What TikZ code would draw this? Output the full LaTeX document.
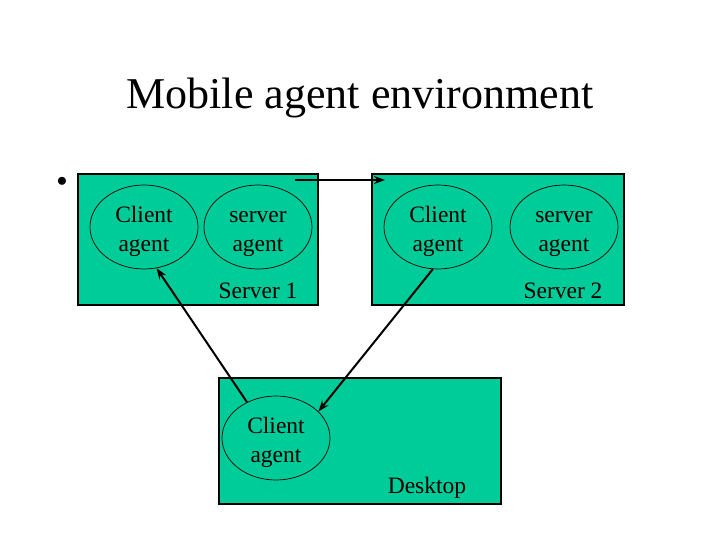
\documentclass[tikz,border=0pt]{standalone}
\usepackage{fontspec}
\setmainfont{Liberation Serif}
\usetikzlibrary{shapes.geometric}
\usetikzlibrary{arrows.meta}
\usetikzlibrary{positioning}
\definecolor{hostgreen}{RGB}{0,204,153}
\newcommand{\toprow}{\rule{0pt}{28pt}}

\begin{document}
\begin{tikzpicture}[
  x=1pt,y=-1pt,
  host/.style={draw,fill=hostgreen,line width=1.2pt,inner sep=0pt},
  agent/.style={ellipse,draw,line width=0.7pt,minimum width=108pt,minimum height=84pt,
    inner xsep=0pt,inner ysep=-4pt,align=center,font=\fontsize{23.5}{29}\selectfont},
  hostlabel/.style={font=\fontsize{23.5}{28}\selectfont},
  move/.style={line width=2pt,-{Stealth[length=11pt,width=8pt]}}]
\useasboundingbox (0,0) rectangle (720,540);
% title
\node (title) at (360,98) {\fontsize{44}{52}\selectfont Mobile agent environment};
\node (dot) at (62,182) {\fontsize{22}{26}\selectfont $\bullet$};
% hosts
\node[host,minimum width=240pt,minimum height=131pt] (server1) at (198,239.5) {};
\node[host,minimum width=252pt,minimum height=131pt] (server2) at (498,239.5) {};
\node[host,minimum width=282pt,minimum height=126pt] (desktop) at (360,441) {};
\node[hostlabel] (s1label) at (258,291) {Server 1};
\node[hostlabel] (s2label) at (563,291) {Server 2};
\node[hostlabel] (dlabel) at (427,488) {Desktop};
% agents
\node[agent] (client1) at (144,227) {\toprow Client\\\strut agent};
\node[agent] (serveragent1) at (258,227) {\toprow server\\\strut agent};
\node[agent] (client2) at (438,227) {\toprow Client\\\strut agent};
\node[agent] (serveragent2) at (564,227) {\toprow server\\\strut agent};
\node[agent] (clientd) at (276,438) {\toprow Client\\\strut agent};
% migrations
\coordinate (hopstart) at (295,180);
\coordinate (hopend) at (385,180);
\draw[move] (hopstart) -- (hopend);
\draw[move] (clientd.129) -- (client1.-73);
\draw[move] (client2.-97) -- (clientd.32);
\end{tikzpicture}
\end{document}
